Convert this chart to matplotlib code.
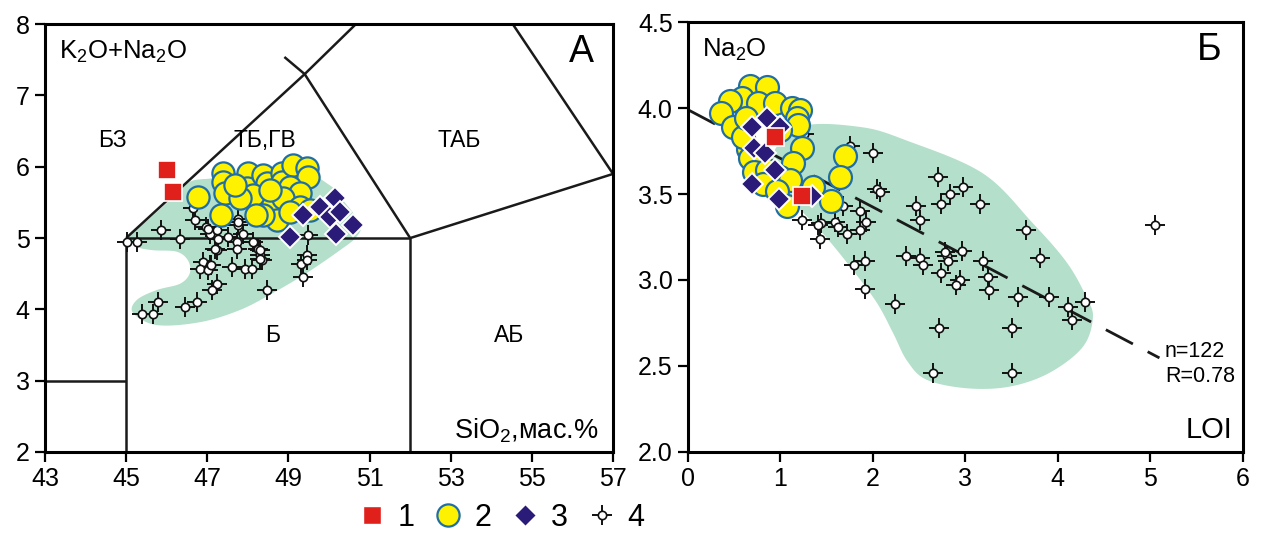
import numpy as np
import matplotlib
matplotlib.use("Agg")
import matplotlib.pyplot as plt
from matplotlib.lines import Line2D
from matplotlib.legend_handler import HandlerTuple
from matplotlib.patches import Polygon

plt.rcParams['font.family'] = ['Liberation Sans', 'DejaVu Sans']
plt.rcParams['mathtext.fontset'] = 'custom'
plt.rcParams['mathtext.rm'] = 'Liberation Sans'

# ---------------- Panel A (TAS) data ----------------
a_g1_x = [46.00, 46.16]
a_g1_y = [5.95, 5.65]

a_g2_x = [46.78, 47.39, 47.39, 47.43, 47.35, 48.01, 47.97, 48.38, 48.46, 48.83, 48.83,
          49.12, 49.45, 49.49, 49.03, 49.28, 48.30, 48.62, 48.13, 48.87, 48.71, 48.38,
          49.28, 49.53, 48.21, 47.80, 49.03, 47.68, 48.54]
a_g2_y = [5.58, 5.91, 5.79, 5.63, 5.32, 5.91, 5.70, 5.88, 5.77, 5.91, 5.79,
          6.02, 5.98, 5.86, 5.72, 5.63, 5.49, 5.51, 5.60, 5.56, 5.25, 5.32,
          5.44, 5.39, 5.32, 5.56, 5.37, 5.74, 5.67]

a_g3_x = [50.14, 49.77, 49.36, 50.02, 50.27, 50.59, 50.18, 49.03]
a_g3_y = [5.56, 5.44, 5.32, 5.30, 5.37, 5.18, 5.06, 5.02]

a_g4_x = [45.01, 45.26, 45.87, 46.33, 46.69, 46.65, 46.98, 47.06, 47.27, 47.23, 47.51,
          47.72, 47.76, 47.76, 47.88, 47.72, 48.13, 48.25, 48.30, 48.34, 46.90, 46.82,
          47.06, 47.02, 47.60, 47.93, 48.09, 47.23, 47.11, 48.46, 49.45, 49.32, 49.45,
          49.36, 49.49, 45.79, 45.67, 45.38, 46.45, 46.74, 47.23, 47.02, 47.76, 47.19,
          48.30, 48.30, 47.10]
a_g4_y = [4.95, 4.95, 5.11, 4.99, 5.25, 5.42, 5.16, 5.06, 4.99, 4.83, 5.02,
          4.95, 5.18, 5.27, 5.06, 4.85, 4.95, 4.85, 4.76, 4.69, 4.67, 4.57,
          4.62, 4.55, 4.60, 4.57, 4.57, 4.36, 4.27, 4.27, 4.76, 4.64, 4.69,
          4.46, 5.04, 4.11, 3.94, 3.94, 4.03, 4.11, 5.11, 5.13, 5.23, 4.85,
          4.83, 4.71, 4.62]

a_field_x = [45.09, 45.59, 46.15, 46.57, 47.14, 48.05, 49.28, 50.02, 50.27, 50.76, 50.68,
             50.27, 49.45, 48.62, 47.80, 46.82, 45.75, 45.17, 45.26, 45.75, 46.33, 46.57,
             46.52, 46.24, 45.66, 45.26]
a_field_y = [5.02, 5.28, 5.57, 5.79, 5.84, 5.92, 5.95, 5.74, 5.58, 5.21, 5.02,
             4.83, 4.51, 4.23, 3.99, 3.82, 3.78, 3.95, 4.13, 4.27, 4.36, 4.51,
             4.69, 4.81, 4.83, 4.88]

a_xticks = [43, 45, 47, 49, 51, 53, 55, 57]
a_yticks = [2, 3, 4, 5, 6, 7, 8]

# TAS boundary segments (x list, y list)
tas_lines = [
    ([45, 49.4, 50.66], [5, 7.3, 8.0]),
    ([49.4, 48.9], [7.3, 7.54]),
    ([49.4, 52, 57], [7.3, 5, 5.9]),
    ([57, 54.53], [5.9, 8.0]),
    ([45, 52], [5, 5]),
    ([45, 45], [2, 5]),
    ([52, 52], [2, 5]),
    ([43, 45], [3, 3]),
]
a_field_labels = ["БЗ", "ТБ,ГВ", "ТАБ", "Б", "АБ"]
a_label_x = [44.65, 48.42, 53.2, 48.6, 54.45]
a_label_y = [6.37, 6.37, 6.37, 3.64, 3.64]

# ---------------- Panel Б data ----------------
b_g1_x = [0.94, 1.23]
b_g1_y = [3.83, 3.49]

b_g2_x = [0.67, 0.85, 0.58, 0.76, 0.45, 0.36, 0.49, 0.94, 1.12, 1.21, 1.18, 1.19, 1.23,
          1.14, 0.65, 0.67, 0.71, 0.85, 0.99, 1.10, 0.81, 0.96, 1.07, 1.35, 1.55, 1.70,
          1.64, 0.60, 0.63, 0.99]
b_g2_y = [4.13, 4.12, 4.06, 4.03, 4.04, 3.97, 3.89, 4.03, 4.00, 3.99, 3.94, 3.90, 3.77,
          3.68, 3.76, 3.71, 3.63, 3.64, 3.60, 3.58, 3.56, 3.52, 3.43, 3.54, 3.46, 3.72,
          3.60, 3.83, 3.94, 3.87]

b_g3_x = [0.69, 0.85, 0.99, 0.71, 0.83, 0.94, 0.69, 0.98, 1.34]
b_g3_y = [3.89, 3.94, 3.89, 3.77, 3.74, 3.64, 3.56, 3.47, 3.49]

b_g4_x = [1.75, 2.00, 2.70, 2.83, 2.98, 2.04, 2.08, 3.16, 2.74, 2.47, 2.51, 1.86, 1.93,
          1.86, 1.72, 1.59, 1.44, 1.41, 1.23, 1.43, 1.62, 3.66, 3.81, 2.36, 2.51, 2.54,
          2.80, 2.96, 2.78, 2.81, 3.19, 3.25, 3.26, 2.74, 2.94, 2.90, 3.57, 3.91, 4.11,
          4.15, 4.29, 1.91, 1.80, 1.91, 2.24, 2.72, 3.50, 2.65, 3.50, 5.05, 1.26, 1.68]
b_g4_y = [3.78, 3.74, 3.60, 3.50, 3.54, 3.53, 3.51, 3.44, 3.44, 3.43, 3.35, 3.40, 3.34,
          3.29, 3.27, 3.34, 3.33, 3.32, 3.35, 3.24, 3.31, 3.29, 3.13, 3.14, 3.13, 3.09,
          3.14, 3.17, 3.16, 3.11, 3.11, 3.02, 2.94, 3.04, 3.00, 2.97, 2.90, 2.90, 2.84,
          2.77, 2.87, 2.95, 3.09, 3.11, 2.86, 2.72, 2.72, 2.46, 2.46, 3.32, 3.85, 3.43]

b_field_x = [1.21, 1.86, 2.37, 3.19, 3.73, 4.10, 4.31, 4.38, 4.27, 3.91, 3.48, 3.02,
             2.58, 2.37, 2.22, 2.04, 1.75, 1.46, 1.21, 0.99, 0.89]
b_field_y = [3.89, 3.89, 3.81, 3.62, 3.33, 3.10, 2.90, 2.78, 2.61, 2.46, 2.38, 2.37,
             2.42, 2.53, 2.69, 2.87, 3.08, 3.27, 3.41, 3.52, 3.70]

b_fit_intercept = 3.99
b_fit_slope = -0.283
b_fit_xmax = 5.10
b_xticks = [0, 1, 2, 3, 4, 5, 6]
b_yticks = [2.0, 2.5, 3.0, 3.5, 4.0, 4.5]

legend_labels = ["1", "2", "3", "4"]

# ---------------- styles ----------------
FIELD = '#b3dfcb'
RED = '#e0201b'
YEL = '#fff200'
YEL_EDGE = '#1f6ea6'
NAVY = '#2a1b78'


def smooth_closed(xs, ys, n=20):
    p = np.column_stack([xs, ys])
    m = len(p)
    out = []
    for i in range(m):
        p0, p1, p2, p3 = p[i - 1], p[i], p[(i + 1) % m], p[(i + 2) % m]
        for t in np.linspace(0, 1, n, endpoint=False):
            t2, t3 = t * t, t * t * t
            out.append(0.5 * ((2 * p1) + (-p0 + p2) * t + (2 * p0 - 5 * p1 + 4 * p2 - p3) * t2
                              + (-p0 + 3 * p1 - 3 * p2 + p3) * t3))
    return np.array(out)


def style_axes(ax):
    for s in ax.spines.values():
        s.set_linewidth(2.2)
    ax.tick_params(direction='out', length=7, width=1.6, labelsize=18, pad=4)


def draw_crosses(ax, x, y, z=4):
    ax.plot(x, y, ls='none', marker='+', ms=15, mew=1.4, color='#111111', zorder=z)
    ax.plot(x, y, ls='none', marker='o', ms=6, mfc='white', mec='#111111', mew=1.2, zorder=z + 0.1)


fig = plt.figure(figsize=(12.64, 5.38), dpi=100)
axA = fig.add_axes([0.0356, 0.160, 0.4494, 0.795])
axB = fig.add_axes([0.5443, 0.160, 0.4388, 0.799])

# ---- Panel A ----
axA.set_xlim(43, 57)
axA.set_ylim(2, 8)
axA.set_xticks(a_xticks)
axA.set_yticks(a_yticks)
style_axes(axA)
pts = smooth_closed(a_field_x, a_field_y)
axA.add_patch(Polygon(pts, closed=True, fc=FIELD, ec='none', zorder=1))
for lx, ly in tas_lines:
    axA.plot(lx, ly, color='#1a1a1a', lw=1.8, zorder=2, solid_capstyle='butt')
for t, x, y in zip(a_field_labels, a_label_x, a_label_y):
    axA.text(x, y, t, fontsize=16.5, ha='center', va='center', zorder=3)
draw_crosses(axA, a_g4_x, a_g4_y)
axA.plot(a_g2_x, a_g2_y, ls='none', marker='o', ms=16, mfc=YEL, mec=YEL_EDGE, mew=1.6, zorder=6)
axA.plot(a_g3_x, a_g3_y, ls='none', marker='D', ms=11, mfc=NAVY, mec='white', mew=1.4, zorder=7)
axA.plot(a_g1_x, a_g1_y, ls='none', marker='s', ms=12.5, mfc=RED, mec='white', mew=1.2, zorder=8)
axA.text(0.025, 0.935, r'K$_\mathregular{2}$O+Na$_\mathregular{2}$O', transform=axA.transAxes,
         fontsize=18.5, ha='left', va='center')
axA.text(0.945, 0.935, 'А', transform=axA.transAxes, fontsize=27, ha='center', va='center')
axA.text(0.975, 0.05, r'SiO$_\mathregular{2}$,мас.%', transform=axA.transAxes,
         fontsize=19.5, ha='right', va='center')

# ---- Panel Б ----
axB.set_xlim(0, 6)
axB.set_ylim(2.0, 4.5)
axB.set_xticks(b_xticks)
axB.set_yticks(b_yticks)
axB.yaxis.set_major_formatter(matplotlib.ticker.FormatStrFormatter('%.1f'))
style_axes(axB)
pts = smooth_closed(b_field_x, b_field_y)
axB.add_patch(Polygon(pts, closed=True, fc=FIELD, ec='none', zorder=1))
fx = np.array([0, b_fit_xmax])
axB.plot(fx, b_fit_intercept + b_fit_slope * fx, color='#1a1a1a', lw=2.0,
         dashes=(11, 6), zorder=2)
draw_crosses(axB, b_g4_x, b_g4_y)
axB.plot(b_g2_x, b_g2_y, ls='none', marker='o', ms=16.5, mfc=YEL, mec=YEL_EDGE, mew=1.6, zorder=6)
axB.plot(b_g3_x, b_g3_y, ls='none', marker='D', ms=11, mfc=NAVY, mec='white', mew=1.4, zorder=7)
axB.plot(b_g1_x, b_g1_y, ls='none', marker='s', ms=12.5, mfc=RED, mec='white', mew=1.2, zorder=8)
axB.text(5.16, 2.585, 'n=122', fontsize=15.5, ha='left', va='center')
axB.text(5.16, 2.44, 'R=0.78', fontsize=15.5, ha='left', va='center')
axB.text(0.025, 0.935, r'Na$_\mathregular{2}$O', transform=axB.transAxes,
         fontsize=18.5, ha='left', va='center')
axB.text(0.94, 0.935, 'Б', transform=axB.transAxes, fontsize=27, ha='center', va='center')
axB.text(0.94, 0.05, 'LOI', transform=axB.transAxes, fontsize=21, ha='center', va='center')

# ---- legend ----
h1 = Line2D([], [], ls='none', marker='s', ms=12.5, mfc=RED, mec='white')
h2 = Line2D([], [], ls='none', marker='o', ms=16, mfc=YEL, mec=YEL_EDGE, mew=1.6)
h3 = Line2D([], [], ls='none', marker='D', ms=11, mfc=NAVY, mec='white')
h4a = Line2D([], [], ls='none', marker='+', ms=15, mew=1.4, color='#111111')
h4b = Line2D([], [], ls='none', marker='o', ms=6, mfc='white', mec='#111111', mew=1.2)
fig.legend([h1, h2, h3, (h4a, h4b)], legend_labels,
           handler_map={tuple: HandlerTuple(ndivide=1, pad=0)},
           loc='center', bbox_to_anchor=(0.396, 0.037), ncol=4, frameon=False,
           fontsize=22, handletextpad=0.35, columnspacing=0.6, handlelength=1.0)

fig.savefig('out.png', dpi=100)
